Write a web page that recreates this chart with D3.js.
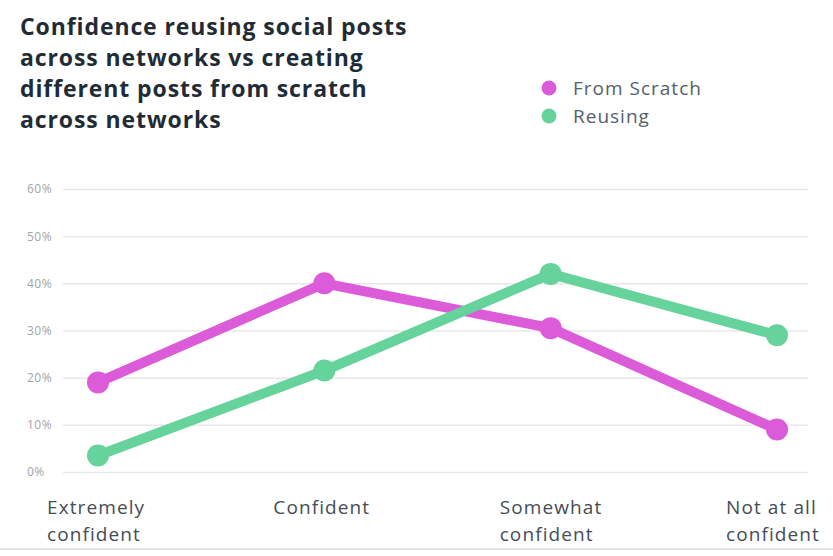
<!DOCTYPE html>
<html>
<head>
<meta charset="utf-8">
<script src="https://cdn.jsdelivr.net/npm/d3@7"></script>
<style>
  html, body { margin: 0; padding: 0; background: #fff; }
  svg { display: block; font-family: "Open Sans", "Noto Sans", sans-serif; }
</style>
</head>
<body>
<svg id="chart" width="833" height="556"></svg>
<script>
// Confidence levels on the x axis
const categories = ["Extremely confident", "Confident", "Somewhat confident", "Not at all confident"];
const categoryLines = [["Extremely", "confident"], ["Confident"], ["Somewhat", "confident"], ["Not at all", "confident"]];
// Share of respondents (%)
const fromScratch = [19, 40, 30.5, 9];
const reusing = [3.5, 21.5, 42, 29];
const yTicks = [0, 10, 20, 30, 40, 50, 60];
const seriesNames = ["From Scratch", "Reusing"];
const seriesColors = ["#dc5bd9", "#66d29c"];

const svg = d3.select("#chart");

const x = d3.scalePoint().domain(categories).range([98, 777]);
const y = d3.scaleLinear().domain([0, 60]).range([472, 189]);

// Title
const titleLines = ["Confidence reusing social posts", "across networks vs creating",
                    "different posts from scratch", "across networks"];
svg.append("g").selectAll("text").data(titleLines).join("text")
  .attr("x", 20).attr("y", (d, i) => 35 + i * 31)
  .attr("font-size", 23).attr("font-weight", 700).attr("fill", "#1f2c35")
  .attr("letter-spacing", 0.9)
  .text(d => d);

// Legend
const legend = svg.append("g");
seriesNames.forEach((name, i) => {
  legend.append("circle").attr("cx", 549).attr("cy", 88 + i * 28).attr("r", 7.5)
    .attr("fill", seriesColors[i]);
  legend.append("text").attr("x", 573).attr("y", 88 + i * 28).attr("dy", "0.35em")
    .attr("font-size", 19).attr("letter-spacing", 1).attr("fill", "#56606a").text(name);
});

// Gridlines and y tick labels
const yAxis = d3.axisLeft(y).tickValues(yTicks).tickSize(-(808 - 63)).tickFormat(d => d + "%");
svg.append("g").attr("transform", "translate(63,0)").call(yAxis)
  .call(g => g.select(".domain").remove())
  .call(g => g.selectAll(".tick line").attr("stroke", "#e6e8ea").attr("stroke-width", 1.5))
  .call(g => g.selectAll(".tick text").attr("x", -36).attr("text-anchor", "start")
    .attr("font-size", 12).attr("letter-spacing", 0.5).attr("fill", "#a0a4a8")
    .attr("font-family", "\"Open Sans\", sans-serif"));

// Category labels
const xg = svg.append("g");
categories.forEach((c, i) => {
  const t = xg.append("text").attr("x", x(c) - 51).attr("y", 514)
    .attr("font-size", 19).attr("letter-spacing", 1.1).attr("fill", "#454d55");
  categoryLines[i].forEach((ln, j) => {
    t.append("tspan").attr("x", x(c) - 51).attr("dy", j === 0 ? 0 : 27).text(ln);
  });
});

// Bottom rule
svg.append("line").attr("x1", 0).attr("x2", 833).attr("y1", 549).attr("y2", 549)
  .attr("stroke", "#e4e4e4").attr("stroke-width", 2);

// Lines and points
const line = d3.line().x((d, i) => x(categories[i])).y(d => y(d));
[fromScratch, reusing].forEach((vals, s) => {
  const g = svg.append("g");
  g.append("path").datum(vals).attr("d", line).attr("fill", "none")
    .attr("stroke", seriesColors[s]).attr("stroke-width", 10)
    .attr("stroke-linejoin", "round").attr("stroke-linecap", "round");
  g.selectAll("circle").data(vals).join("circle")
    .attr("cx", (d, i) => x(categories[i])).attr("cy", d => y(d)).attr("r", 11)
    .attr("fill", seriesColors[s]);
});
</script>
</body>
</html>
